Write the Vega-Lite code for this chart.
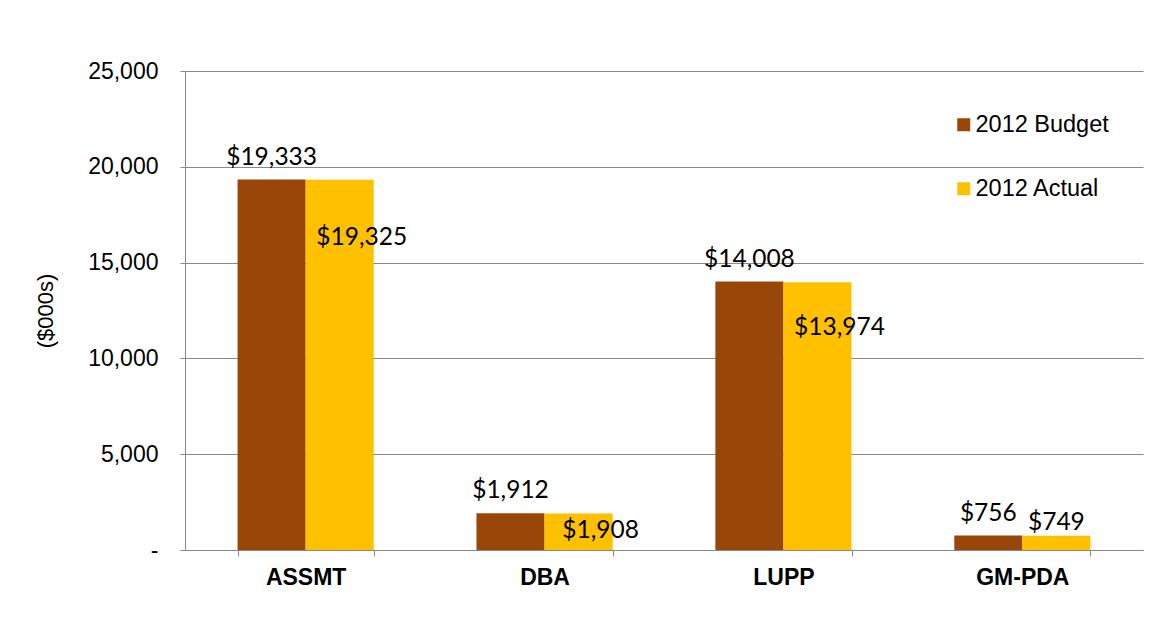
{
  "$schema": "https://vega.github.io/schema/vega-lite/v6.json",
  "autosize": "none",
  "width": 958,
  "height": 479,
  "padding": {"left": 185, "top": 71, "right": 29, "bottom": 80},
  "background": "white",
  "config": {"view": {"stroke": null}, "font": "Liberation Sans"},
  "data": {
    "values": [
      {"cat": "ASSMT", "series": "2012 Budget", "value": 19333},
      {"cat": "ASSMT", "series": "2012 Actual", "value": 19325},
      {"cat": "DBA", "series": "2012 Budget", "value": 1912},
      {"cat": "DBA", "series": "2012 Actual", "value": 1908},
      {"cat": "LUPP", "series": "2012 Budget", "value": 14008},
      {"cat": "LUPP", "series": "2012 Actual", "value": 13974},
      {"cat": "GM-PDA", "series": "2012 Budget", "value": 756},
      {"cat": "GM-PDA", "series": "2012 Actual", "value": 749}
    ]
  },
  "encoding": {
    "x": {
      "field": "cat",
      "type": "nominal",
      "sort": ["ASSMT", "DBA", "LUPP", "GM-PDA"],
      "scale": {"paddingInner": 0.43, "paddingOuter": 0.22},
      "axis": {
        "title": null,
        "labelAngle": 0,
        "labelFontSize": 23,
        "labelFontWeight": "bold",
        "labelColor": "#000000",
        "tickBand": "extent",
        "tickSize": 6,
        "tickColor": "#888888",
        "domainColor": "#888888",
        "labelPadding": 10
      }
    },
    "xOffset": {
      "field": "series",
      "type": "nominal",
      "sort": ["2012 Budget", "2012 Actual"],
      "scale": {"paddingInner": 0, "paddingOuter": 0}
    }
  },
  "layer": [
    {
      "encoding": {
        "y": {
          "field": "value",
          "type": "quantitative",
          "scale": {"domain": [0, 25000]},
          "axis": {
            "values": [0, 5000, 10000, 15000, 20000, 25000],
            "format": ",.0f",
            "labelExpr": "datum.value == 0 ? '-' : datum.label",
            "labelFontSize": 23,
            "labelColor": "#000000",
            "labelPadding": 22,
            "tickSize": 5,
            "tickColor": "#888888",
            "domainColor": "#888888",
            "gridColor": "#888888",
            "gridWidth": 1,
            "title": "($000s)",
            "titleFontSize": 22,
            "titleFontWeight": "normal",
            "titleColor": "#000000",
            "titlePadding": 30
          }
        }
      },
      "layer": [
        {
          "mark": {"type": "bar"},
          "encoding": {
            "color": {
              "field": "series",
              "type": "nominal",
              "sort": ["2012 Budget", "2012 Actual"],
              "scale": {"domain": ["2012 Budget", "2012 Actual"], "range": ["#994708", "#FFC000"]},
              "legend": {
                "orient": "none",
                "legendX": 767,
                "legendY": 42,
                "title": null,
                "padding": 0,
                "symbolType": "square",
                "symbolSize": 169,
                "symbolStrokeWidth": 0,
                "labelFontSize": 23.5,
                "labelColor": "#000000",
                "labelOffset": 0,
                "rowPadding": 39
              }
            }
          }
        },
        {
          "transform": [{"filter": "datum.series == '2012 Budget'"}],
          "mark": {"type": "text", "font": "Lato", "fontSize": 24.5, "baseline": "alphabetic", "dy": -15, "color": "#000000"},
          "encoding": {"text": {"field": "value", "type": "quantitative", "format": "$,.0f"}}
        },
        {
          "transform": [{"filter": "datum.series == '2012 Actual' && datum.value < 1000"}],
          "mark": {"type": "text", "font": "Lato", "fontSize": 24.5, "baseline": "alphabetic", "dy": -6, "color": "#000000"},
          "encoding": {"text": {"field": "value", "type": "quantitative", "format": "$,.0f"}}
        }
      ]
    },
    {
      "transform": [{"filter": "datum.series == '2012 Actual' && datum.value >= 1000"}],
      "mark": {"type": "text", "font": "Lato", "fontSize": 24.5, "baseline": "middle", "dx": 22, "color": "#000000"},
      "encoding": {
        "y": {"field": "value", "type": "quantitative", "scale": {"domain": [774, 29286], "zero": false}, "axis": null},
        "text": {"field": "value", "type": "quantitative", "format": "$,.0f"}
      }
    }
  ],
  "resolve": {"scale": {"y": "independent"}}
}
